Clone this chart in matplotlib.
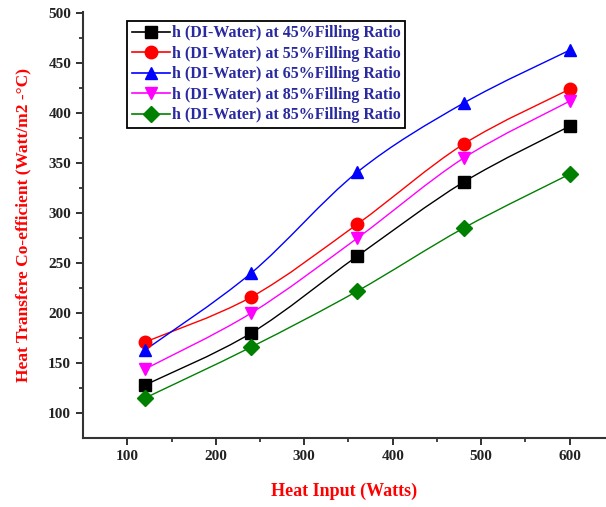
import numpy as np
import matplotlib
matplotlib.use("Agg")
import matplotlib.pyplot as plt
from matplotlib.path import Path
from matplotlib.patches import PathPatch
from matplotlib.lines import Line2D

# =====================================================
# DATA
# =====================================================
heat_input = [120, 240, 360, 480, 600]

h_45 = [128, 180, 257, 331, 387]
h_55 = [171, 216, 289, 369, 424]
h_65 = [163, 240, 341, 410, 463]
h_85a = [144, 200, 275, 355, 412]
h_85b = [115, 166, 222, 285, 339]

labels = [
    "h (DI-Water) at 45%Filling Ratio",
    "h (DI-Water) at 55%Filling Ratio",
    "h (DI-Water) at 65%Filling Ratio",
    "h (DI-Water) at 85%Filling Ratio",
    "h (DI-Water) at 85%Filling Ratio",
]

series = [h_45, h_55, h_65, h_85a, h_85b]
colors = ["black", "red", "blue", "magenta", "green"]
markers = ["s", "o", "^", "v", "D"]
msizes = [8, 9, 9, 9, 8]

plt.rcParams["font.family"] = ["Liberation Serif", "DejaVu Serif"]
plt.rcParams["font.weight"] = "bold"


def smooth_path(x, y):
    # Catmull-Rom style bezier through the measured points
    x = np.asarray(x, float)
    y = np.asarray(y, float)
    verts = [(x[0], y[0])]
    codes = [Path.MOVETO]
    n = len(x)
    for i in range(n - 1):
        x0, y0 = (x[i - 1], y[i - 1]) if i > 0 else (x[i], y[i])
        x3, y3 = (x[i + 2], y[i + 2]) if i + 2 < n else (x[i + 1], y[i + 1])
        c1 = (x[i] + (x[i + 1] - x0) / 6, y[i] + (y[i + 1] - y0) / 6)
        c2 = (x[i + 1] - (x3 - x[i]) / 6, y[i + 1] - (y3 - y[i]) / 6)
        verts += [c1, c2, (x[i + 1], y[i + 1])]
        codes += [Path.CURVE4] * 3
    return Path(verts, codes)


# =====================================================
# PLOT
# =====================================================
fig = plt.figure(figsize=(6.06, 5.07), dpi=100)
ax = fig.add_axes([0.137, 0.136, 0.863, 0.840])

handles = []
for ys, c, m, ms, lab in zip(series, colors, markers, msizes, labels):
    ax.add_patch(PathPatch(smooth_path(heat_input, ys), facecolor="none",
                           edgecolor=c, linewidth=1.0, zorder=2))
    ax.plot(heat_input, ys, linestyle="none", marker=m, color=c,
            markersize=ms, zorder=3)
    handles.append(Line2D([], [], color=c, marker=m, markersize=ms,
                          linewidth=1.2, label=lab))

ax.set_xlim(50, 641)
ax.set_ylim(75, 501)
ax.set_xticks([100, 200, 300, 400, 500, 600])
ax.set_xticks([150, 250, 350, 450, 550], minor=True)
ax.set_yticks([100, 150, 200, 250, 300, 350, 400, 450, 500])
ax.set_yticks([125, 175, 225, 275, 325, 375, 425, 475], minor=True)

for s in ["top", "right"]:
    ax.spines[s].set_visible(False)
for s in ["left", "bottom"]:
    ax.spines[s].set_linewidth(1.5)
    ax.spines[s].set_color("#333333")

ax.tick_params(which="major", direction="out", length=5, width=1.3,
               labelsize=11, colors="#222222")
ax.tick_params(which="minor", direction="out", length=3, width=1.2,
               colors="#222222")

ax.set_xlabel("Heat Input (Watts)", color="red", fontsize=13,
              fontweight="bold", labelpad=14)
ax.set_ylabel("Heat Transfere Co-efficient (Watt/m2 -°C)", color="red",
              fontsize=12.5, fontweight="bold", labelpad=12)

leg = ax.legend(handles=handles, loc="upper left",
                bbox_to_anchor=(0.084, 0.98), borderaxespad=0,
                fancybox=False, edgecolor="black", framealpha=1,
                fontsize=11.5, handlelength=2.4, handletextpad=0.1,
                labelspacing=0.28, borderpad=0.3)
leg.get_frame().set_linewidth(1.3)
for t in leg.get_texts():
    t.set_color("#2a2aa0")

fig.savefig("out.png", dpi=100)
